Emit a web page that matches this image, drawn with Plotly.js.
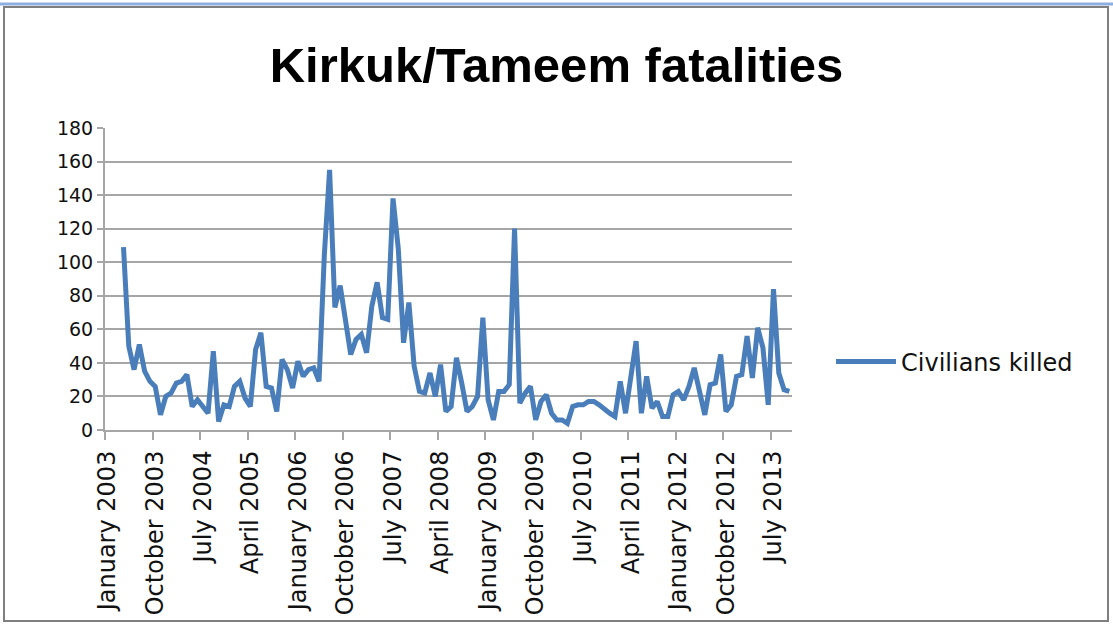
<!DOCTYPE html>
<html>
<head>
<meta charset="utf-8">
<script src="https://cdn.plot.ly/plotly-3.0.1.min.js"></script>
<style>
  html, body { margin: 0; padding: 0; background: #ffffff; }
  #chart { width: 1113px; height: 626px; }
</style>
</head>
<body>
<div id="chart"></div>
<script>
// ---- data ----
const monthNames = ['January','February','March','April','May','June','July','August','September','October','November','December'];
const startYear = 2003;
const monthCount = 130; // January 2003 .. October 2013
const categories = [];
for (let i = 0; i < monthCount; i++) {
  categories.push(monthNames[i % 12] + ' ' + (startYear + Math.floor(i / 12)));
}
const tickLabels = ['January 2003','October 2003','July 2004','April 2005','January 2006','October 2006','July 2007','April 2008','January 2009','October 2009','July 2010','April 2011','January 2012','October 2012','July 2013'];
const seriesName = 'Civilians killed';
const civiliansKilled = [
  null, null, null, 109, 50, 36, 51, 35, 29, 26, 9, 20,        // 2003
  22, 28, 29, 33, 14, 18, 14, 10, 47, 5, 15, 14,               // 2004
  26, 29, 19, 14, 48, 58, 26, 25, 11, 42, 36, 25,              // 2005
  41, 32, 36, 37, 29, 104, 155, 73, 86, 64, 45, 54,            // 2006
  57, 46, 74, 88, 67, 66, 138, 108, 52, 76, 38, 23,            // 2007
  22, 34, 20, 39, 11, 14, 43, 28, 11, 14, 20, 67,              // 2008
  18, 6, 23, 23, 27, 120, 16, 22, 26, 6, 17, 21,               // 2009
  10, 6, 6, 4, 14, 15, 15, 17, 17, 15, 12, 10,                 // 2010
  8, 29, 10, 32, 53, 10, 32, 13, 17, 8, 8, 21,                 // 2011
  23, 18, 26, 37, 23, 9, 27, 28, 45, 11, 15, 32,               // 2012
  33, 56, 31, 61, 49, 15, 84, 34, 24, 23                       // 2013
];

// ---- derived ----
const xIndex = categories.map((_, i) => i);
const tickVals = tickLabels.map(l => categories.indexOf(l));
const boundaryVals = tickVals.map(v => v - 0.5);

// plot-area geometry helpers (for frame shapes)
const W = 1113, H = 626;
const M = { l: 105, r: 321, t: 128, b: 196 };
const pw = W - M.l - M.r, ph = H - M.t - M.b;
const px = x => (x - M.l) / pw;
const py = y => (H - M.b - y) / ph;

const lineColor = '#4a7ebb';
const trace = {
  x: xIndex,
  y: civiliansKilled,
  text: categories,
  type: 'scatter',
  mode: 'lines',
  name: seriesName,
  line: { color: lineColor, width: 5 },
  hovertemplate: '%{text}: %{y}<extra></extra>'
};

const gridGray = '#a6a6a6';
const textColor = '#111111';
const layout = {
  width: W, height: H,
  margin: M,
  paper_bgcolor: '#ffffff',
  plot_bgcolor: '#ffffff',
  title: {
    text: 'Kirkuk/Tameem fatalities',
    font: { family: 'Liberation Sans, Arial, sans-serif', size: 49, color: '#000000', weight: 'bold' },
    xref: 'container', x: 0.5, xanchor: 'center',
    yref: 'container', y: (H - 65) / H, yanchor: 'middle'
  },
  showlegend: true,
  legend: {
    x: px(831), y: py(362), xanchor: 'left', yanchor: 'middle',
    itemwidth: 60,
    font: { family: 'DejaVu Sans, sans-serif', size: 24, color: textColor },
    bgcolor: 'rgba(0,0,0,0)'
  },
  xaxis: {
    type: 'linear',
    range: [-0.5, monthCount - 0.5],
    tickmode: 'array',
    tickvals: tickVals,
    ticktext: tickLabels,
    tickangle: -90,
    ticks: '',
    ticklabelstandoff: 9,
    tickfont: { family: 'DejaVu Sans, sans-serif', size: 24, color: textColor },
    showgrid: false,
    zeroline: false,
    showline: true, linecolor: gridGray, linewidth: 2,
    minor: { tickmode: 'array', tickvals: boundaryVals, ticks: 'outside', ticklen: 8, tickcolor: gridGray, tickwidth: 2, showgrid: false }
  },
  yaxis: {
    range: [0, 180],
    tickmode: 'linear', tick0: 0, dtick: 20,
    ticks: 'outside', ticklen: 6, tickcolor: gridGray, tickwidth: 2,
    ticklabelstandoff: 0,
    tickfont: { family: 'DejaVu Sans, sans-serif', size: 19, color: textColor },
    showgrid: true, gridcolor: gridGray, gridwidth: 2,
    zeroline: false,
    showline: true, linecolor: gridGray, linewidth: 2
  },
  shapes: [
    { type: 'line', xref: 'paper', yref: 'paper', x0: px(0), x1: px(W), y0: py(4), y1: py(4), line: { color: '#8eaee0', width: 3 } },
    { type: 'rect', xref: 'paper', yref: 'paper', x0: px(4), x1: px(1108), y0: py(7), y1: py(621), line: { color: '#7f7f7f', width: 2 } }
  ]
};

Plotly.newPlot('chart', [trace], layout, { displayModeBar: false });
</script>
</body>
</html>
